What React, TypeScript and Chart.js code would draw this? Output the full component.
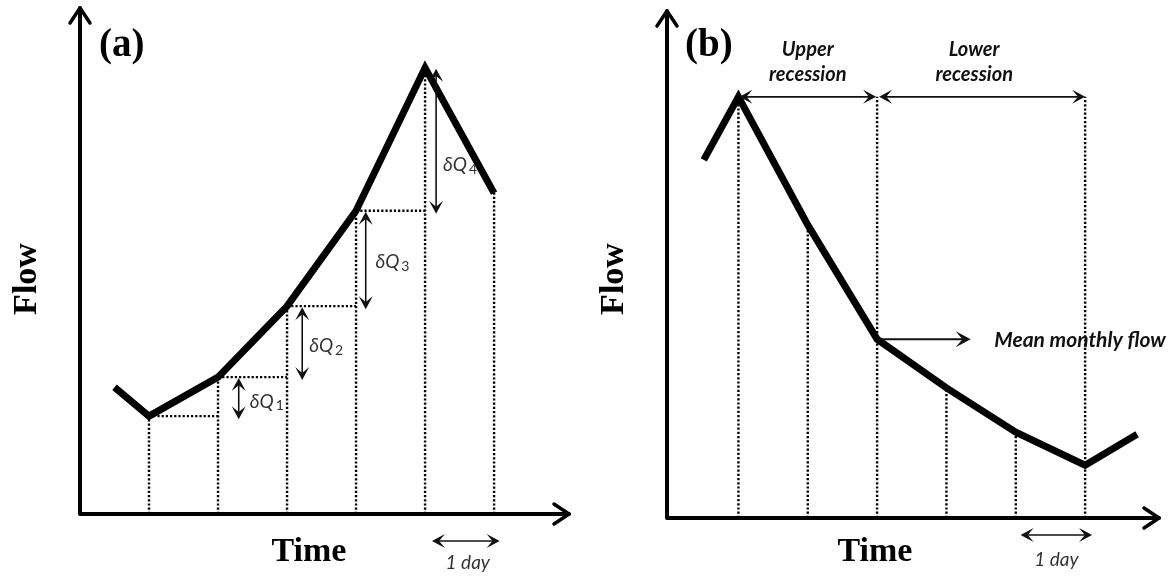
import React, { useEffect, useRef } from 'react';
import { Chart, registerables } from 'chart.js';

Chart.register(...registerables);

// ---------- Panel (a): rising limb ----------
const daysA = [0.5, 1, 2, 3, 4, 5, 6];
const flowA = [25.0, 19.3, 27.0, 41.0, 59.8, 88.0, 63.3];
const deltaNamesA = ['1', '2', '3', '4'];
const deltaArrowDayA = [2.3, 3.22, 4.14, 5.16];
const deltaLabelDayA = [2.46, 3.32, 4.28, 5.26];
const deltaLabelFlowA = [22.1, 33.1, 49.7, 68.8];
const dayArrowA = [5.1, 6.08];

// ---------- Panel (b): recession limb ----------
const daysB = [0.5, 1, 2, 3, 4, 5, 6, 6.75];
const flowB = [70.5, 82.9, 57.7, 35.2, 25.6, 16.9, 10.4, 16.5];
const recessionLabels = [
  ['Upper', 'recession'],
  ['Lower', 'recession'],
];
const recessionLabelDay = [2.0, 4.4];
const meanArrowEndDay = 4.35;
const meanLabelDay = 4.69;
const dayArrowB = [5.07, 6.1];

const SERIF_BOLD = 'bold 34px "Liberation Serif", "Times New Roman", serif';
const LABEL_ITALIC = 'italic 19px Lato, "Open Sans", sans-serif';
const LABEL_BOLD_ITALIC = 'italic bold 20px Lato, "Open Sans", sans-serif';

function stealthHead(ctx: CanvasRenderingContext2D, x: number, y: number, angle: number, len = 13, half = 7) {
  ctx.save();
  ctx.translate(x, y);
  ctx.rotate(angle);
  ctx.beginPath();
  ctx.moveTo(0, 0);
  ctx.lineTo(-len, -half);
  ctx.lineTo(-len * 0.55, 0);
  ctx.lineTo(-len, half);
  ctx.closePath();
  ctx.fill();
  ctx.restore();
}

function doubleArrow(ctx: CanvasRenderingContext2D, x1: number, y1: number, x2: number, y2: number, color = '#111', lw = 1.6) {
  ctx.save();
  ctx.strokeStyle = color;
  ctx.fillStyle = color;
  ctx.lineWidth = lw;
  const ang = Math.atan2(y2 - y1, x2 - x1);
  ctx.beginPath();
  ctx.moveTo(x1 + Math.cos(ang) * 4, y1 + Math.sin(ang) * 4);
  ctx.lineTo(x2 - Math.cos(ang) * 4, y2 - Math.sin(ang) * 4);
  ctx.stroke();
  stealthHead(ctx, x2, y2, ang);
  stealthHead(ctx, x1, y1, ang + Math.PI);
  ctx.restore();
}

function singleArrow(ctx: CanvasRenderingContext2D, x1: number, y1: number, x2: number, y2: number) {
  ctx.save();
  ctx.strokeStyle = '#111';
  ctx.fillStyle = '#111';
  ctx.lineWidth = 2;
  const ang = Math.atan2(y2 - y1, x2 - x1);
  ctx.beginPath();
  ctx.moveTo(x1, y1);
  ctx.lineTo(x2 - Math.cos(ang) * 4, y2 - Math.sin(ang) * 4);
  ctx.stroke();
  stealthHead(ctx, x2, y2, ang, 15, 8);
  ctx.restore();
}

function drawAxes(ctx: CanvasRenderingContext2D, left: number, top: number, right: number, bottom: number) {
  ctx.save();
  ctx.strokeStyle = '#000';
  ctx.lineWidth = 4;
  ctx.lineCap = 'round';
  ctx.lineJoin = 'round';
  ctx.beginPath();
  ctx.moveTo(left, top + 1);
  ctx.lineTo(left, bottom);
  ctx.lineTo(right - 1, bottom);
  ctx.stroke();
  ctx.lineWidth = 3.5;
  ctx.beginPath();
  ctx.moveTo(left - 10, top + 16);
  ctx.lineTo(left, top + 1);
  ctx.lineTo(left + 10, top + 16);
  ctx.stroke();
  ctx.beginPath();
  ctx.moveTo(right - 16, bottom - 10);
  ctx.lineTo(right - 1, bottom);
  ctx.lineTo(right - 16, bottom + 10);
  ctx.stroke();
  ctx.restore();
}

function drawTitles(ctx: CanvasRenderingContext2D, tag: string, tagX: number, flowX: number, timeX: number) {
  ctx.save();
  ctx.fillStyle = '#000';
  ctx.font = 'bold 39px "Liberation Serif", "Times New Roman", serif';
  ctx.textAlign = 'left';
  ctx.textBaseline = 'middle';
  ctx.fillText(tag, tagX, 46);
  ctx.font = SERIF_BOLD;
  ctx.textAlign = 'center';
  ctx.fillText('Time', timeX, 552);
  ctx.translate(flowX, 279);
  ctx.rotate(-Math.PI / 2);
  ctx.fillText('Flow', 0, 0);
  ctx.restore();
}

function dotted(points: { x: number; y: number }[]) {
  return {
    data: points,
    showLine: true,
    borderColor: '#000',
    borderWidth: 2.4,
    borderDash: [2.2, 2],
    pointRadius: 0,
    fill: false,
    clip: false as any,
  };
}

function mainLine(xs: number[], ys: number[]) {
  return {
    data: xs.map((d, i) => ({ x: d, y: ys[i] })),
    showLine: true,
    borderColor: '#000',
    borderWidth: 7,
    borderJoinStyle: 'miter',
    borderCapStyle: 'butt',
    pointRadius: 0,
    fill: false,
    clip: false,
  };
}

function buildDatasetsA() {
  const sets: any[] = [mainLine(daysA, flowA)];
  for (let i = 1; i < daysA.length; i++) {
    sets.push(dotted([{ x: daysA[i], y: 0 }, { x: daysA[i], y: flowA[i] }]));
  }
  for (let i = 1; i <= 4; i++) {
    sets.push(dotted([{ x: daysA[i], y: flowA[i] }, { x: daysA[i + 1], y: flowA[i] }]));
  }
  return sets;
}

function buildDatasetsB() {
  const peak = Math.max(...flowB);
  const sets: any[] = [mainLine(daysB, flowB)];
  for (let i = 1; i <= 6; i++) {
    const top = i === 3 || i === 6 ? peak : flowB[i];
    sets.push(dotted([{ x: daysB[i], y: 0 }, { x: daysB[i], y: top }]));
  }
  return sets;
}

const overlayA = {
  id: 'overlayA',
  afterDraw(chart: any) {
    const ctx = chart.ctx as CanvasRenderingContext2D;
    const { left, top, right, bottom } = chart.chartArea;
    const xs = chart.scales.x;
    const ys = chart.scales.y;
    drawAxes(ctx, left, top, right, bottom);
    drawTitles(ctx, '(a)', 99, 27, 309);
    for (let k = 0; k < 4; k++) {
      const x = xs.getPixelForValue(deltaArrowDayA[k]);
      const yTop = ys.getPixelForValue(flowA[k + 2]);
      const yBot = ys.getPixelForValue(flowA[k + 1]);
      doubleArrow(ctx, x, yTop + 1, x, yBot + 3);
      const lx = xs.getPixelForValue(deltaLabelDayA[k]);
      const ly = ys.getPixelForValue(deltaLabelFlowA[k]);
      ctx.save();
      ctx.fillStyle = '#333';
      ctx.textBaseline = 'middle';
      ctx.textAlign = 'left';
      ctx.font = LABEL_ITALIC;
      ctx.fillText('\u03B4Q', lx, ly);
      const w = ctx.measureText('\u03B4Q').width;
      ctx.font = '14px Lato, "Open Sans", sans-serif';
      ctx.fillText(deltaNamesA[k], lx + w + 2, ly + 4);
      ctx.restore();
    }
    const ya = bottom + 27;
    const x1 = xs.getPixelForValue(dayArrowA[0]);
    const x2 = xs.getPixelForValue(dayArrowA[1]);
    doubleArrow(ctx, x1, ya, x2, ya);
    ctx.save();
    ctx.fillStyle = '#333';
    ctx.font = LABEL_ITALIC;
    ctx.textAlign = 'center';
    ctx.textBaseline = 'middle';
    ctx.fillText('1 day', (x1 + x2) / 2 + 2, bottom + 49);
    ctx.restore();
  },
};

const overlayB = {
  id: 'overlayB',
  afterDraw(chart: any) {
    const ctx = chart.ctx as CanvasRenderingContext2D;
    const { left, top, right, bottom } = chart.chartArea;
    const xs = chart.scales.x;
    const ys = chart.scales.y;
    drawAxes(ctx, left, top, right, bottom);
    drawTitles(ctx, '(b)', 97, 26, 287);
    const peak = Math.max(...flowB);
    const py = ys.getPixelForValue(peak);
    const d1 = xs.getPixelForValue(daysB[1]);
    const d3 = xs.getPixelForValue(daysB[3]);
    const d6 = xs.getPixelForValue(daysB[6]);
    doubleArrow(ctx, d1 + 1, py, d3 - 1, py);
    doubleArrow(ctx, d3 + 2, py, d6, py);
    ctx.save();
    ctx.fillStyle = '#111';
    ctx.font = LABEL_BOLD_ITALIC;
    ctx.textAlign = 'center';
    ctx.textBaseline = 'middle';
    recessionLabels.forEach((lines, i) => {
      const cx = xs.getPixelForValue(recessionLabelDay[i]);
      ctx.fillText(lines[0], cx, py - 47);
      ctx.fillText(lines[1], cx, py - 22);
    });
    ctx.restore();
    const my = ys.getPixelForValue(flowB[3]);
    singleArrow(ctx, d3 + 1, my, xs.getPixelForValue(meanArrowEndDay), my);
    ctx.save();
    ctx.fillStyle = '#111';
    ctx.font = 'italic bold 21px Lato, "Open Sans", sans-serif';
    ctx.textAlign = 'left';
    ctx.textBaseline = 'middle';
    ctx.fillText('Mean monthly flow', xs.getPixelForValue(meanLabelDay), my + 1);
    ctx.restore();
    const ya = bottom + 17;
    const x1 = xs.getPixelForValue(dayArrowB[0]);
    const x2 = xs.getPixelForValue(dayArrowB[1]);
    doubleArrow(ctx, x1, ya, x2, ya);
    ctx.save();
    ctx.fillStyle = '#333';
    ctx.font = LABEL_ITALIC;
    ctx.textAlign = 'center';
    ctx.textBaseline = 'middle';
    ctx.fillText('1 day', (x1 + x2) / 2, bottom + 42);
    ctx.restore();
  },
};

function makeConfig(datasets: any[], xmin: number, xmax: number, padding: any, plugin: any): any {
  return {
    type: 'scatter',
    data: { datasets },
    options: {
      responsive: false,
      animation: false,
      events: [],
      layout: { padding },
      scales: {
        x: { type: 'linear', display: false, min: xmin, max: xmax },
        y: { type: 'linear', display: false, min: 0, max: 100 },
      },
      plugins: { legend: { display: false }, tooltip: { enabled: false } },
    },
    plugins: [plugin],
  };
}

export default function App() {
  const refA = useRef<HTMLCanvasElement>(null);
  const refB = useRef<HTMLCanvasElement>(null);
  useEffect(() => {
    document.body.style.margin = '0';
    const a = new Chart(
      refA.current!,
      makeConfig(buildDatasetsA(), 0, 7.1, { left: 80, right: 18, top: 7, bottom: 63 }, overlayA)
    );
    const b = new Chart(
      refB.current!,
      makeConfig(buildDatasetsB(), -0.03, 7.08, { left: 79, right: 16, top: 10, bottom: 59 }, overlayB)
    );
    return () => {
      a.destroy();
      b.destroy();
    };
  }, []);
  return (
    <div style={{ position: 'absolute', left: 0, top: 0, width: 1176, height: 577, display: 'flex', background: '#fff' }}>
      <canvas ref={refA} width={588} height={577} style={{ display: 'block', width: 588, height: 577 }} />
      <canvas ref={refB} width={588} height={577} style={{ display: 'block', width: 588, height: 577 }} />
    </div>
  );
}
